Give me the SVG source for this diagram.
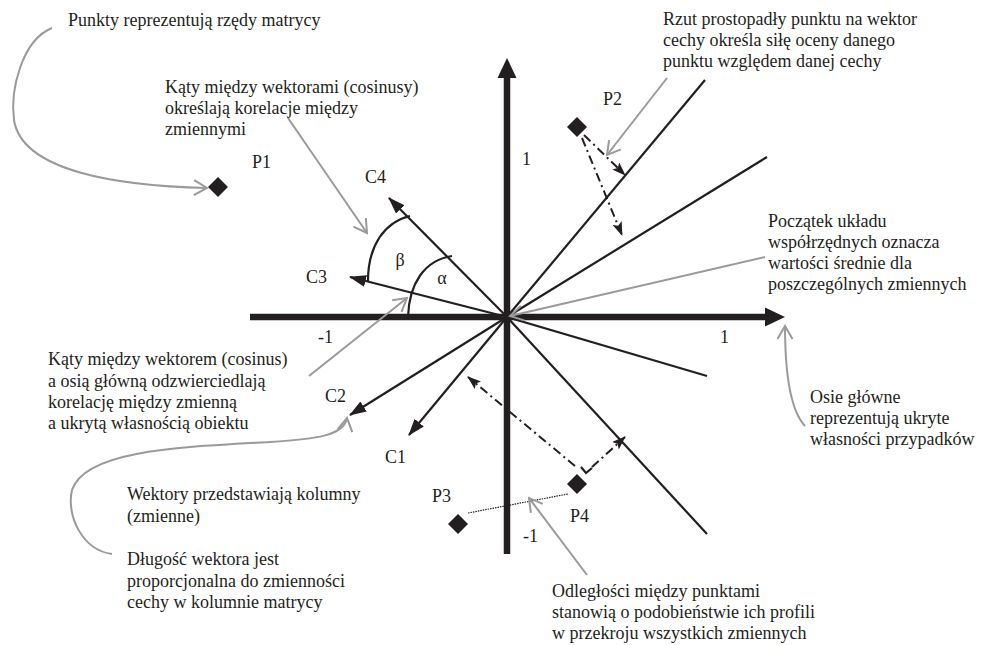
<svg xmlns="http://www.w3.org/2000/svg" width="994" height="645" viewBox="0 0 994 645">
<style>
text{font-family:"Liberation Serif","Times New Roman",serif;font-size:18px;fill:#231f20}
.ln{stroke:#231f20;stroke-width:2.2;fill:none}
.ax{stroke:#231f20;stroke-width:6.5;fill:none}
.gr{stroke:#9a9a9a;stroke-width:2;fill:none}
.dd{stroke:#231f20;stroke-width:2;fill:none;stroke-dasharray:9,4,2,4}
.dot{stroke:#231f20;stroke-width:1.2;fill:none;stroke-dasharray:1.5,1}
.pt{fill:#231f20}
</style>
<defs>
<marker id="ah" viewBox="0 0 17 12" refX="16" refY="6" markerWidth="17" markerHeight="12" markerUnits="userSpaceOnUse" orient="auto"><path d="M0,0 L17,6 L0,12 z" fill="#231f20"/></marker>
<marker id="ahs" viewBox="0 0 14 10" refX="13" refY="5" markerWidth="14" markerHeight="10" markerUnits="userSpaceOnUse" orient="auto"><path d="M0,0 L14,5 L0,10 L3,5 z" fill="#231f20"/></marker>
<marker id="ch" viewBox="0 0 16 18" refX="14" refY="9" markerWidth="16" markerHeight="18" markerUnits="userSpaceOnUse" orient="auto"><path d="M1,1.5 L14,9 L1,16.5" fill="none" stroke="#9a9a9a" stroke-width="2"/></marker>
</defs>

<g id="connectors">
  <!-- axes -->
  <line class="ax" x1="507" y1="76" x2="507" y2="554"/>
  <polygon points="507,58 497.5,78 516.5,78" fill="#231f20"/>
  <line class="ax" x1="250" y1="317" x2="767" y2="317"/>
  <polygon points="785,317 765,307.5 765,326.5" fill="#231f20"/>
  <!-- plain feature lines -->
  <line class="ln" x1="507" y1="317" x2="705" y2="80"/>
  <line class="ln" x1="507" y1="317" x2="767" y2="157"/>
  <line class="ln" x1="507" y1="317" x2="707" y2="376"/>
  <line class="ln" x1="507" y1="317" x2="707" y2="534"/>
  <!-- vectors -->
  <line class="ln" x1="507" y1="317" x2="389" y2="198" marker-end="url(#ah)"/>
  <line class="ln" x1="507" y1="317" x2="350" y2="277" marker-end="url(#ah)"/>
  <line class="ln" x1="507" y1="317" x2="350" y2="415" marker-end="url(#ah)"/>
  <line class="ln" x1="507" y1="317" x2="409" y2="435" marker-end="url(#ah)"/>
  <!-- angle arcs -->
  <path class="ln" d="M408,317 C409,283 425,260 452,256"/>
  <path class="ln" d="M368,281 C368,245 385,222 410,216"/>
  <!-- projections -->
  <line class="dd" x1="584" y1="135" x2="625" y2="175" marker-end="url(#ahs)"/>
  <line class="dd" x1="582" y1="138" x2="622" y2="235" marker-end="url(#ahs)"/>
  <line class="dd" x1="575" y1="466" x2="468" y2="377" marker-end="url(#ahs)"/>
  <line class="dd" x1="592" y1="467" x2="625" y2="437" marker-end="url(#ahs)"/>
  <polyline class="ln" stroke-width="1.5" points="581,467 586,473 592,468"/>
  <line class="dot" x1="468" y1="513" x2="568" y2="494"/>
  <!-- grey annotation arrows -->
  <path class="gr" d="M52,28 C22,40 10,90 14,120 C22,172 120,186 207,188" marker-end="url(#ch)"/>
  <line class="gr" x1="288" y1="118" x2="367" y2="233" marker-end="url(#ch)"/>
  <line class="gr" x1="309" y1="376" x2="407" y2="298" marker-end="url(#ch)"/>
  <path class="gr" d="M112,554 C82,550 66,515 72,490 C85,450 180,447 270,442 C315,439 344,436 347,418" marker-end="url(#ch)"/>
  <line class="gr" x1="667" y1="78" x2="607" y2="155" marker-end="url(#ch)"/>
  <line class="gr" x1="765" y1="257" x2="510" y2="316" marker-end="url(#ch)"/>
  <path class="gr" d="M805,426 C790,410 785,370 785,326" marker-end="url(#ch)"/>
  <line class="gr" x1="587" y1="575" x2="529" y2="498" marker-end="url(#ch)"/>
</g>

<g id="P1"><polygon class="pt" points="218,177 228,187 218,197 208,187"/><text x="252" y="168">P1</text></g>
<g id="P2"><polygon class="pt" points="577,117 587,127 577,137 567,127"/><text x="603" y="105">P2</text></g>
<g id="P3"><polygon class="pt" points="458,514 468,524 458,534 448,524"/><text x="432" y="502">P3</text></g>
<g id="P4"><polygon class="pt" points="577,474 587,484 577,494 567,484"/><text x="570" y="522">P4</text></g>

<g id="C1"><text x="385" y="463">C1</text></g>
<g id="C2"><text x="325" y="402">C2</text></g>
<g id="C3"><text x="306" y="283">C3</text></g>
<g id="C4"><text x="365" y="183">C4</text></g>
<g id="alpha"><text x="442" y="284" text-anchor="middle">α</text></g>
<g id="beta"><text x="400" y="266" text-anchor="middle">β</text></g>

<g id="ticks">
  <text x="522" y="165">1</text>
  <text x="318" y="343">-1</text>
  <text x="720" y="343">1</text>
  <text x="523" y="542">-1</text>
</g>

<g id="note-punkty"><text x="68" y="26">Punkty reprezentują rzędy matrycy</text></g>
<g id="note-katy-wektory"><text x="165" y="93">Kąty między wektorami (cosinusy)</text><text x="165" y="114">określają korelacje między</text><text x="165" y="135">zmiennymi</text></g>
<g id="note-rzut"><text x="663" y="25">Rzut prostopadły punktu na wektor</text><text x="663" y="46">cechy określa siłę oceny danego</text><text x="663" y="67">punktu względem danej cechy</text></g>
<g id="note-poczatek"><text x="768" y="227">Początek  układu</text><text x="768" y="248">współrzędnych oznacza</text><text x="768" y="269">wartości średnie dla</text><text x="768" y="290">poszczególnych zmiennych</text></g>
<g id="note-katy-os"><text x="48" y="365">Kąty między wektorem (cosinus)</text><text x="48" y="387">a osią główną odzwierciedlają</text><text x="48" y="408">korelację między zmienną</text><text x="48" y="429">a ukrytą własnością obiektu</text></g>
<g id="note-osie"><text x="810" y="403">Osie główne</text><text x="810" y="424">reprezentują ukryte</text><text x="810" y="445">własności przypadków</text></g>
<g id="note-wektory"><text x="127" y="500">Wektory przedstawiają kolumny</text><text x="127" y="522">(zmienne)</text><text x="127" y="565">Długość wektora jest</text><text x="127" y="587">proporcjonalna do zmienności</text><text x="127" y="608">cechy w kolumnie matrycy</text></g>
<g id="note-odleglosci"><text x="552" y="597">Odległości między punktami</text><text x="552" y="618">stanowią o podobieństwie ich profili</text><text x="552" y="639">w przekroju wszystkich zmiennych</text></g>
</svg>
